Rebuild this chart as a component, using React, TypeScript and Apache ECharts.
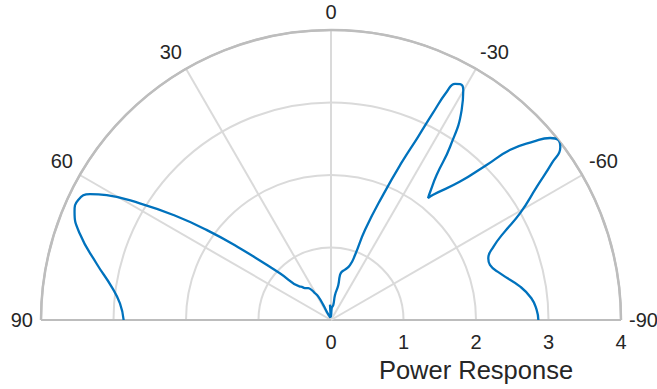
import React, { useEffect, useRef } from "react";
import * as echarts from "echarts";

// Angle (degrees, 0 = broadside, positive to the left) and power response values
const thetaDeg: number[] = [
  -90, -87.2, -83.8, -80, -74.6, -70.9, -68.6, -65.7, -63.3, -60.5, -57.1, -54.6, -53, -51.6,
  -50.3, -48.6, -46.5, -45.1, -43, -39.2, -38.5, -37.7, -36.1, -34.5, -31.9, -29.9, -28.7,
  -27.7, -26.9, -26.2, -25.4, -24.2, -22.6, -20.7, -20.3, -19.1, -15.6, -12.5, -11.3, -11.8,
  -9.1, -8.7, -3.4, -1, 1, 3.8, 5, 8, 12, 16, 20, 24, 27.3, 27.2, 28.6, 30.9, 32.8, 35.6,
  39.4, 41.3, 42.9, 47.5, 51.8, 54.1, 56.3, 58.6, 60.9, 62.4, 64.6, 67.1, 71.1, 76.4, 81.4,
  85.5, 90,
];
const power: number[] = [
  2.86, 2.84, 2.78, 2.65, 2.42, 2.32, 2.33, 2.46, 2.66, 3.0, 3.38, 3.74, 3.96, 4.0,
  3.93, 3.72, 3.41, 3.03, 2.61, 2.23, 2.15, 2.24, 2.47, 2.9, 3.41, 3.66, 3.71,
  3.68, 3.53, 3.18, 2.79, 2.39, 1.87, 1.33, 0.96, 0.8, 0.72, 0.68, 0.63, 0.49,
  0.35, 0.21, 0.16, 0.05, 0.12, 0.21, 0.08, 0.04, 0.07, 0.03, 0.05, 0.07, 0.13, 0.23, 0.37, 0.43, 0.49, 0.54,
  0.57, 0.61, 0.63, 0.95, 1.6, 2.12, 2.61, 3.09, 3.54, 3.75, 3.86, 3.84, 3.66, 3.33, 3.06,
  2.92, 2.86,
];

const angleTicks = { min: -90, max: 90, interval: 30 };
const radiusTicks = { min: 0, max: 4, interval: 1 };
const radiusName = "Power Response";

const TEXT = "#262626";
const GRID = "#dadada";
const EDGE = "#bdbdbd";
const LINE = "#0072BD";
const FONT = "Liberation Sans, Arial, Helvetica, sans-serif";

export default function App() {
  const ref = useRef<HTMLDivElement>(null);
  useEffect(() => {
    document.body.style.margin = "0";
    if (!ref.current) return;
    const chart = echarts.init(ref.current, null, { renderer: "svg" });
    const data = thetaDeg.map((t, i) => [power[i], t]);
    chart.setOption({
      animation: false,
      backgroundColor: "#ffffff",
      polar: { center: [331, 320], radius: 290 },
      angleAxis: {
        type: "value",
        min: angleTicks.min,
        max: angleTicks.max,
        interval: angleTicks.interval,
        startAngle: 0,
        endAngle: 180,
        clockwise: false,
        axisLine: { show: true, lineStyle: { color: EDGE, width: 2.5 } },
        axisTick: { show: false },
        axisLabel: { color: TEXT, fontSize: 20, fontFamily: FONT, margin: 8 },
        splitLine: {
          show: true,
          lineStyle: { color: [EDGE, GRID, GRID, GRID, GRID, GRID, EDGE], width: 2 },
        },
      },
      radiusAxis: {
        type: "value",
        min: radiusTicks.min,
        max: radiusTicks.max,
        interval: radiusTicks.interval,
        axisLine: { show: false },
        axisTick: { show: false },
        axisLabel: { color: TEXT, fontSize: 20, fontFamily: FONT, margin: -32 },
        splitLine: {
          show: true,
          lineStyle: { color: [GRID, GRID, GRID, GRID, EDGE], width: 2 },
        },
        name: radiusName,
        nameLocation: "middle",
        nameGap: 37,
        nameTextStyle: { color: TEXT, fontSize: 25.5, fontFamily: FONT },
      },
      series: [
        {
          type: "line",
          coordinateSystem: "polar",
          data,
          showSymbol: false,
          smooth: 0.5,
          lineStyle: { color: LINE, width: 2.3 },
          z: 10,
        },
      ],
    });
    return () => chart.dispose();
  }, []);
  return (
    <div
      ref={ref}
      style={{ position: "absolute", left: 0, top: 0, width: 657, height: 389 }}
    />
  );
}
